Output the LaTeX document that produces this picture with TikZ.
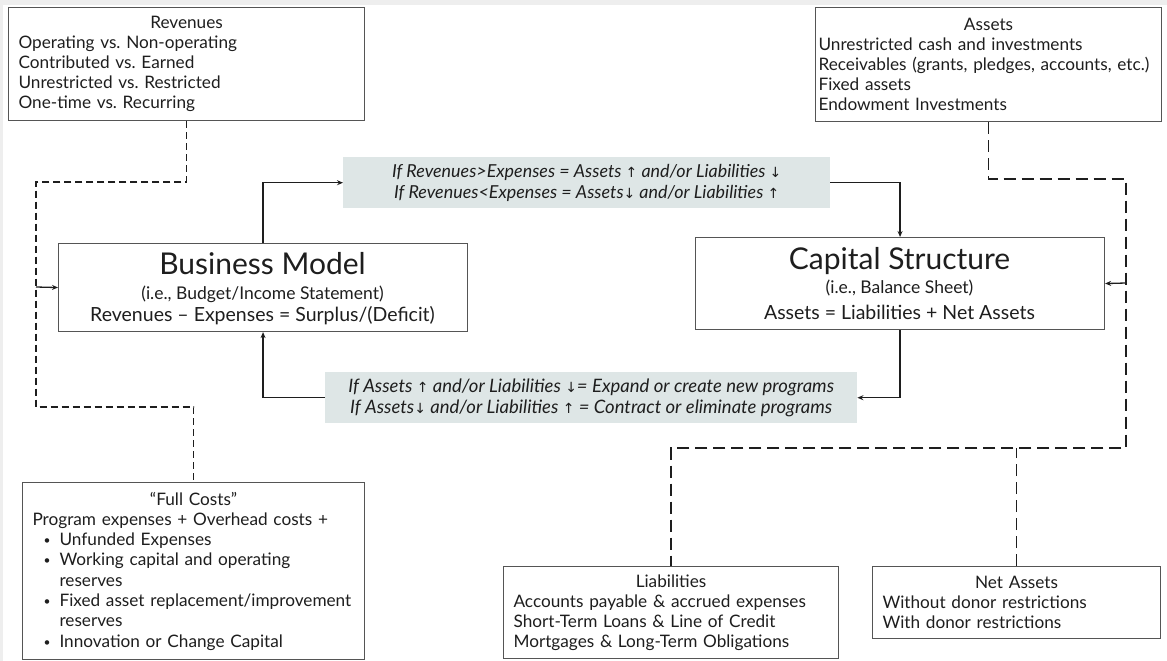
\documentclass[tikz,border=0pt]{standalone}
\usepackage{fontspec}
\setmainfont{Lato}
\newfontfamily\arrfont{DejaVu Sans}
\usetikzlibrary{arrows.meta}
\frenchspacing
\definecolor{boxc}{RGB}{85,85,85}
\definecolor{txt}{RGB}{30,30,30}
\definecolor{grayfill}{RGB}{222,230,230}
\definecolor{bgband}{RGB}{238,238,238}
\newcommand{\ua}{{\arrfont\upshape\fontsize{14}{14}\selectfont ↑}}
\newcommand{\da}{{\arrfont\upshape\fontsize{14}{14}\selectfont ↓}}
\newcommand{\bul}{\hspace*{11pt}\makebox[16pt][l]{\raisebox{1pt}{\fontsize{12}{12}\selectfont\textbullet}}}
\tikzset{
  listbox/.style={draw=boxc, line width=1.1pt, fill=white, anchor=north west,
    inner xsep=10pt, inner ysep=0pt, align=left, text=txt,
    font=\fontsize{17.2}{20}\selectfont},
  bigbox/.style={draw=boxc, line width=1.1pt, fill=white, anchor=north west, inner sep=0pt},
  graybox/.style={fill=grayfill, anchor=north west, inner sep=0pt, align=center, text=txt,
    font=\itshape\fontsize{18.5}{21}\selectfont},
  conn/.style={draw=txt, line width=1.3pt, -{Stealth[length=6pt,width=5pt]}},
  dashl/.style={draw=txt, line width=1.3pt, dash pattern=on 7pt off 4pt},
  dashr/.style={draw=txt, line width=1.3pt, dash pattern=on 12pt off 6pt},
  tl/.style={anchor=base, text=txt, inner sep=0pt}
}
\begin{document}
\begin{tikzpicture}[x=1pt,y=-1pt]
\useasboundingbox (0,0) rectangle (1167,661);
\fill[bgband] (0,0) rectangle (1167,661);
\fill[white] (3,5) rectangle (1167,661);

% list boxes
\node[listbox, text width=336pt, minimum height=113pt] (rev) at (8,7)
 {\makebox[\linewidth]{Revenues}\\
  Operating vs. Non-operating\\
  Contributed vs. Earned\\
  Unrestricted vs. Restricted\\
  One-time vs. Recurring};
\node[listbox, inner xsep=3pt, text width=340pt, minimum height=114pt] (as) at (815,7)
 {\makebox[\linewidth]{Assets}\\
  Unrestricted cash and investments\\
  Receivables (grants, pledges, accounts, etc.)\\
  Fixed assets\\
  Endowment Investments};
\node[listbox, text width=322pt, minimum height=177pt, font=\fontsize{17.2}{20.3}\selectfont] (fc) at (22,482)
 {\makebox[\linewidth]{“Full Costs”}\\
  Program expenses + Overhead costs +\\
  \bul Unfunded Expenses\\
  \bul Working capital and operating\\
  \hspace*{27pt}reserves\\
  \bul Fixed asset replacement/improvement\\
  \hspace*{27pt}reserves\\
  \bul Innovation or Change Capital};
\node[listbox, text width=315pt, minimum height=92pt] (li) at (503,566)
 {\makebox[\linewidth]{Liabilities}\\
  Accounts payable \& accrued expenses\\
  Short-Term Loans \& Line of Credit\\
  Mortgages \& Long-Term Obligations};
\node[listbox, text width=268pt, minimum height=72pt] (na) at (872,566)
 {\makebox[\linewidth]{Net Assets}\\
  Without donor restrictions\\
  With donor restrictions};

% big boxes
\node[bigbox, minimum width=409pt, minimum height=88pt] (bm) at (58,243) {};
\node[tl, font=\fontsize{30}{30}\selectfont] (bmt) at (262.5,274) {Business Model};
\node[tl, font=\fontsize{17.5}{18}\selectfont] (bms) at (262.5,299) {(i.e., Budget/Income Statement)};
\node[tl, font=\fontsize{19.5}{20}\selectfont] (bme) at (262.5,321) {Revenues – Expenses = Surplus/(Deficit)};

\node[bigbox, minimum width=409pt, minimum height=92pt] (cs) at (695,237) {};
\node[tl, font=\fontsize{30}{30}\selectfont] (cst) at (899.5,269) {Capital Structure};
\node[tl, font=\fontsize{17.5}{18}\selectfont] (css) at (899.5,293) {(i.e., Balance Sheet)};
\node[tl, font=\fontsize{19.5}{20}\selectfont] (cse) at (899.5,319) {Assets = Liabilities + Net Assets};

% gray boxes
\node[graybox, minimum width=487pt, minimum height=51pt, font=\itshape\fontsize{17.9}{21}\selectfont] (g1) at (343,157)
 {If Revenues>Expenses = Assets \ua{} and/or Liabilities \da\\
  If Revenues<Expenses = Assets\da{} and/or Liabilities \ua};
\node[graybox, minimum width=532pt, minimum height=51pt] (g2) at (325,372)
 {If Assets \ua{} and/or Liabilities \da= Expand or create new programs\\
  If Assets\da{} and/or Liabilities \ua{} = Contract or eliminate programs};

% solid connectors
\draw[conn] (bm.north) |- (g1.west);
\draw[conn] (g1.east) -| (cs.north);
\draw[conn] (cs.south) |- (g2.east);
\draw[conn] (g2.west) -| (bm.south);

% left dashed
\coordinate (l1) at (36,182);
\coordinate (l2) at (36,407);
\coordinate (l3) at (36,287);
\draw[dashl] (rev.south) |- (l1) -- (l2) -| (fc.north);
\draw[conn] (l3) -- (bm.west);

% right dashed
\coordinate (r1) at (1126,179);
\coordinate (r2) at (1126,448);
\coordinate (r3) at (1126,283);
\draw[dashr] (as.south) |- (r1) -- (r2) -| (li.north);
\draw[dashr] (na.north) -- (na.north |- r2);
\draw[conn] (r3) -- (cs.east);
\end{tikzpicture}
\end{document}
